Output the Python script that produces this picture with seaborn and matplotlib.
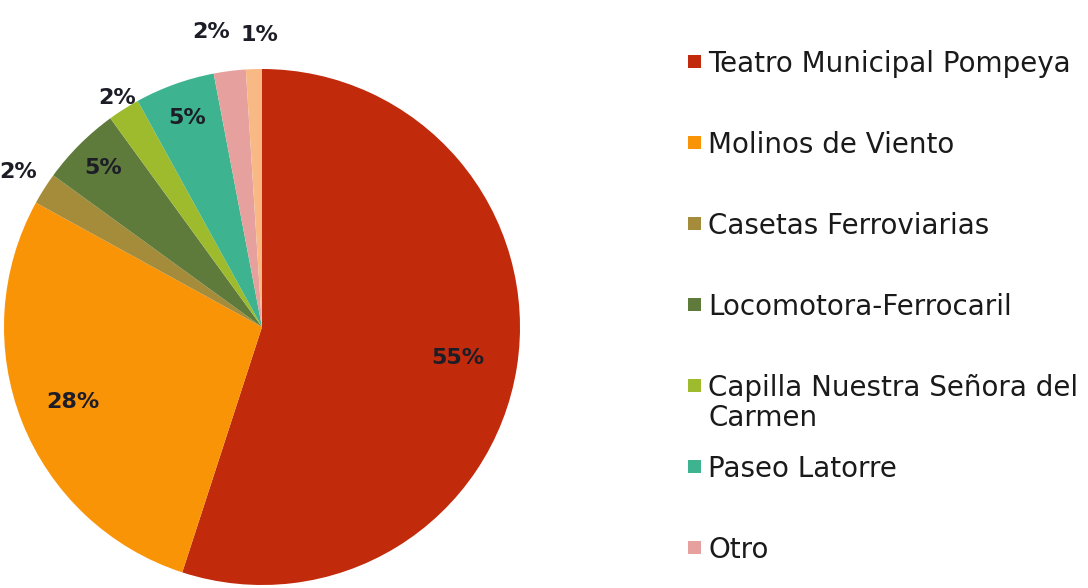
import matplotlib
matplotlib.use("Agg")
import matplotlib.pyplot as plt
import seaborn as sns
import numpy as np
from matplotlib.patches import Rectangle

sns.set_theme(style="white")
plt.rcParams['font.family'] = ['DejaVu Sans']

categories = ["Teatro Municipal Pompeya", "Molinos de Viento", "Casetas Ferroviarias",
              "Locomotora-Ferrocaril", "Capilla Nuestra Señora del\nCarmen",
              "Paseo Latorre", "Otro", ""]
values = [55, 28, 2, 5, 2, 5, 2, 1]
pct_labels = ["55%", "28%", "2%", "5%", "2%", "5%", "2%", "1%"]
colors = ["#C22A0C", "#FA9407", "#A48C3A", "#5F7B3B", "#9EBB2E", "#3DB38F", "#E6A19E", "#F9B985"]
label_radius = [0.77, 0.79, 1.12, 0.87, 1.05, 0.86, 1.16, 1.13]
label_nudge_deg = [0, 0, 0, 0, 0, 0, 2.6, -1.2]

fig = plt.figure(figsize=(10.88, 5.88), dpi=100)
ax = fig.add_axes([262/1088 - 258/1088, (588 - 327 - 258)/588, 516/1088, 516/588])
wedges, _ = ax.pie(values, colors=colors, startangle=90, counterclock=False,
                   wedgeprops=dict(linewidth=0))
ax.set_xlim(-1, 1)
ax.set_ylim(-1, 1)
ax.axis("off")

for w, lab, r, nd in zip(wedges, pct_labels, label_radius, label_nudge_deg):
    mid = np.deg2rad((w.theta1 + w.theta2) / 2 + nd)
    ax.text(r * np.cos(mid), r * np.sin(mid), lab, ha="center", va="center",
            fontsize=16, fontweight="bold", color="#1d1d28")

# legend (manual, entries placed on a regular grid)
y_first = 62
step = 81
for i, (lab, col) in enumerate(zip(categories[:7], colors[:7])):
    yc = y_first + i * step
    fy = 1 - yc / 588
    fig.patches.append(Rectangle((688/1088, fy - 6/588), 13/1088, 13/588,
                                 transform=fig.transFigure, facecolor=col,
                                 edgecolor="none"))
    fig.text(708/1088, fy + 12/588, lab, ha="left", va="top", fontsize=20,
             color="#1a1a1a", linespacing=1.1)

fig.savefig("out.png", dpi=100)
